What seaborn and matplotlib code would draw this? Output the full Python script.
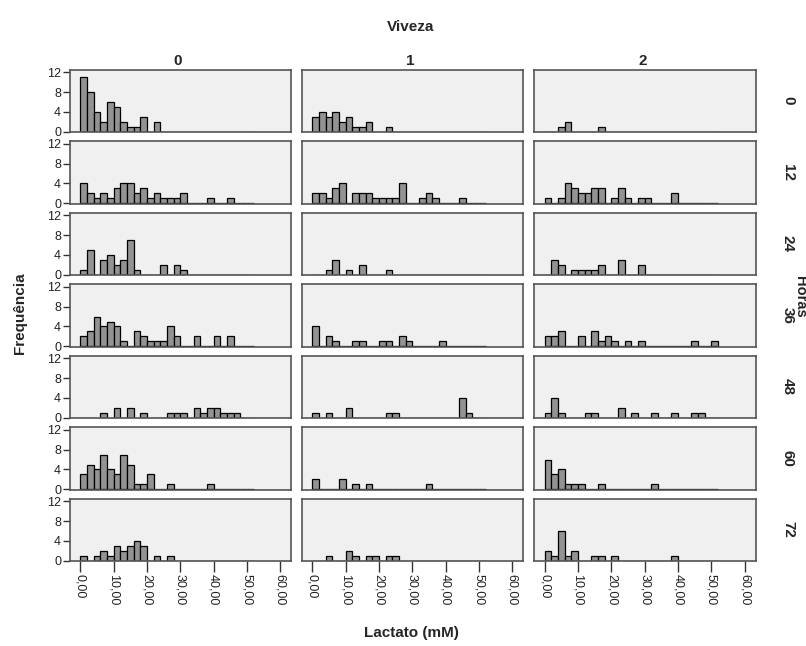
import numpy as np
import pandas as pd
import matplotlib
matplotlib.use("Agg")
import matplotlib.pyplot as plt
import seaborn as sns

# ---------------- data (counts per 2 mM bin, starting at 0) ----------------
viveza = ["0", "1", "2"]
horas = ["0", "12", "24", "36", "48", "60", "72"]
bin_width = 2
n_bins = 26
x_ticks = [0, 10, 20, 30, 40, 50, 60]
x_tick_labels = ["0,00", "10,00", "20,00", "30,00", "40,00", "50,00", "60,00"]
y_ticks = [0, 4, 8, 12]

# Viveza 0
v0_h0 = [11, 8, 4, 2, 6, 5, 2, 1, 1, 3, 0, 2]
v0_h12 = [4, 2, 1, 2, 1, 3, 4, 4, 2, 3, 1, 2, 1, 1, 1, 2, 0, 0, 0, 1, 0, 0, 1]
v0_h24 = [1, 5, 0, 3, 4, 2, 3, 7, 1, 0, 0, 0, 2, 0, 2, 1]
v0_h36 = [2, 3, 6, 4, 5, 4, 1, 0, 3, 2, 1, 1, 1, 4, 2, 0, 0, 2, 0, 0, 2, 0, 2]
v0_h48 = [0, 0, 0, 1, 0, 2, 0, 2, 0, 1, 0, 0, 0, 1, 1, 1, 0, 2, 1, 2, 2, 1, 1, 1]
v0_h60 = [3, 5, 4, 7, 4, 3, 7, 5, 1, 1, 3, 0, 0, 1, 0, 0, 0, 0, 0, 1]
v0_h72 = [1, 0, 1, 2, 1, 3, 2, 3, 4, 3, 0, 1, 0, 1]
# Viveza 1
v1_h0 = [3, 4, 3, 4, 2, 3, 1, 1, 2, 0, 0, 1]
v1_h12 = [2, 2, 1, 3, 4, 0, 2, 2, 2, 1, 1, 1, 1, 4, 0, 0, 1, 2, 1, 0, 0, 0, 1]
v1_h24 = [0, 0, 1, 3, 0, 1, 0, 2, 0, 0, 0, 1]
v1_h36 = [4, 0, 2, 1, 0, 0, 1, 1, 0, 0, 1, 1, 0, 2, 1, 0, 0, 0, 0, 1]
v1_h48 = [1, 0, 1, 0, 0, 2, 0, 0, 0, 0, 0, 1, 1, 0, 0, 0, 0, 0, 0, 0, 0, 0, 4, 1]
v1_h60 = [2, 0, 0, 0, 2, 0, 1, 0, 1, 0, 0, 0, 0, 0, 0, 0, 0, 1]
v1_h72 = [0, 0, 1, 0, 0, 2, 1, 0, 1, 1, 0, 1, 1]
# Viveza 2
v2_h0 = [0, 0, 1, 2, 0, 0, 0, 0, 1]
v2_h12 = [1, 0, 1, 4, 3, 2, 2, 3, 3, 0, 1, 3, 1, 0, 1, 1, 0, 0, 0, 2]
v2_h24 = [0, 3, 2, 0, 1, 1, 1, 1, 2, 0, 0, 3, 0, 0, 2]
v2_h36 = [2, 2, 3, 0, 0, 2, 0, 3, 1, 2, 1, 0, 1, 0, 1, 0, 0, 0, 0, 0, 0, 0, 1, 0, 0, 1]
v2_h48 = [1, 4, 1, 0, 0, 0, 1, 1, 0, 0, 0, 2, 0, 1, 0, 0, 1, 0, 0, 1, 0, 0, 1, 1]
v2_h60 = [6, 3, 4, 1, 1, 1, 0, 0, 1, 0, 0, 0, 0, 0, 0, 0, 1]
v2_h72 = [2, 1, 6, 1, 2, 0, 0, 1, 1, 0, 1, 0, 0, 0, 0, 0, 0, 0, 0, 1]

panels = {
    ("0", "0"): v0_h0, ("0", "12"): v0_h12, ("0", "24"): v0_h24, ("0", "36"): v0_h36,
    ("0", "48"): v0_h48, ("0", "60"): v0_h60, ("0", "72"): v0_h72,
    ("1", "0"): v1_h0, ("1", "12"): v1_h12, ("1", "24"): v1_h24, ("1", "36"): v1_h36,
    ("1", "48"): v1_h48, ("1", "60"): v1_h60, ("1", "72"): v1_h72,
    ("2", "0"): v2_h0, ("2", "12"): v2_h12, ("2", "24"): v2_h24, ("2", "36"): v2_h36,
    ("2", "48"): v2_h48, ("2", "60"): v2_h60, ("2", "72"): v2_h72,
}

rows = []
for (v, h), cnts in panels.items():
    c = list(cnts) + [0] * (n_bins - len(cnts))
    for i, n in enumerate(c):
        rows.append({"Viveza": v, "Horas": h,
                     "Lactato": i * bin_width + bin_width / 2, "n": float(n)})
df = pd.DataFrame(rows)

# ---------------- figure ----------------
sns.set_theme(style="white")
plt.rcParams["font.family"] = ["Liberation Sans", "DejaVu Sans"]

W, H = 806, 646
fig = plt.figure(figsize=(W / 100, H / 100), dpi=100)
fig.patch.set_facecolor("white")

col_left = [69.5, 301.5, 534.0]
col_w = 221.5
row_top0 = 69.5
row_pitch = 71.5
row_h = 62.5

bar_color = "#939393"
bg = "#f0f0f0"
frame = "#555555"

for ci, v in enumerate(viveza):
    for ri, h in enumerate(horas):
        left = col_left[ci] / W
        top = row_top0 + ri * row_pitch
        bottom = 1 - (top + row_h) / H
        ax = fig.add_axes([left, bottom, col_w / W, row_h / H])
        ax.set_facecolor(bg)
        sub = df[(df["Viveza"] == v) & (df["Horas"] == h)].reset_index(drop=True)
        sns.histplot(data=sub, x="Lactato", weights="n", binwidth=bin_width,
                     binrange=(0, n_bins * bin_width), ax=ax,
                     color=bar_color, alpha=1.0, edgecolor="black",
                     linewidth=0.9, legend=False)
        ax.set_xlim(-3.2, 63.2)
        ax.set_ylim(-0.05, 12.6)
        ax.set_xlabel("")
        ax.set_ylabel("")
        for sp in ax.spines.values():
            sp.set_visible(True)
            sp.set_color(frame)
            sp.set_linewidth(1.2)
        ax.set_yticks(y_ticks)
        if ci == 0:
            ax.set_yticklabels([str(t) for t in y_ticks], fontsize=9)
            ax.tick_params(axis="y", which="both", left=True, length=5,
                           width=1, color="#333333", pad=1, labelcolor="#222222")
        else:
            ax.tick_params(axis="y", left=False, labelleft=False)
        ax.set_xticks(x_ticks)
        if ri == len(horas) - 1:
            ax.set_xticklabels(x_tick_labels, rotation=-90, fontsize=9,
                               va="top", ha="center")
            ax.tick_params(axis="x", bottom=True, length=8, width=1,
                           color="#333333", pad=1, labelcolor="#222222")
        else:
            ax.tick_params(axis="x", bottom=False, labelbottom=False)
        if ri == 0:
            ax.text(0.49, 1.02, v, transform=ax.transAxes, ha="center",
                    va="bottom", fontsize=11, fontweight="bold")
        if ci == len(viveza) - 1:
            fig.text(788 / W, 1 - (top + row_h / 2) / H, h, rotation=-90,
                     ha="center", va="center", fontsize=11, fontweight="bold")

fig.text(411 / W, 1 - 27 / H, "Viveza", ha="center", va="center",
         fontsize=11, fontweight="bold")
fig.text(411 / W, 1 - 633 / H, "Lactato (mM)", ha="center", va="center",
         fontsize=11, fontweight="bold")
fig.text(20 / W, 1 - 313 / H, "Frequência", rotation=90, ha="center",
         va="center", fontsize=11, fontweight="bold")
fig.text(800 / W, 1 - 297 / H, "Horas", rotation=-90, ha="center",
         va="center", fontsize=10.5, fontweight="bold")

fig.savefig("out.png", dpi=100, facecolor="white")
